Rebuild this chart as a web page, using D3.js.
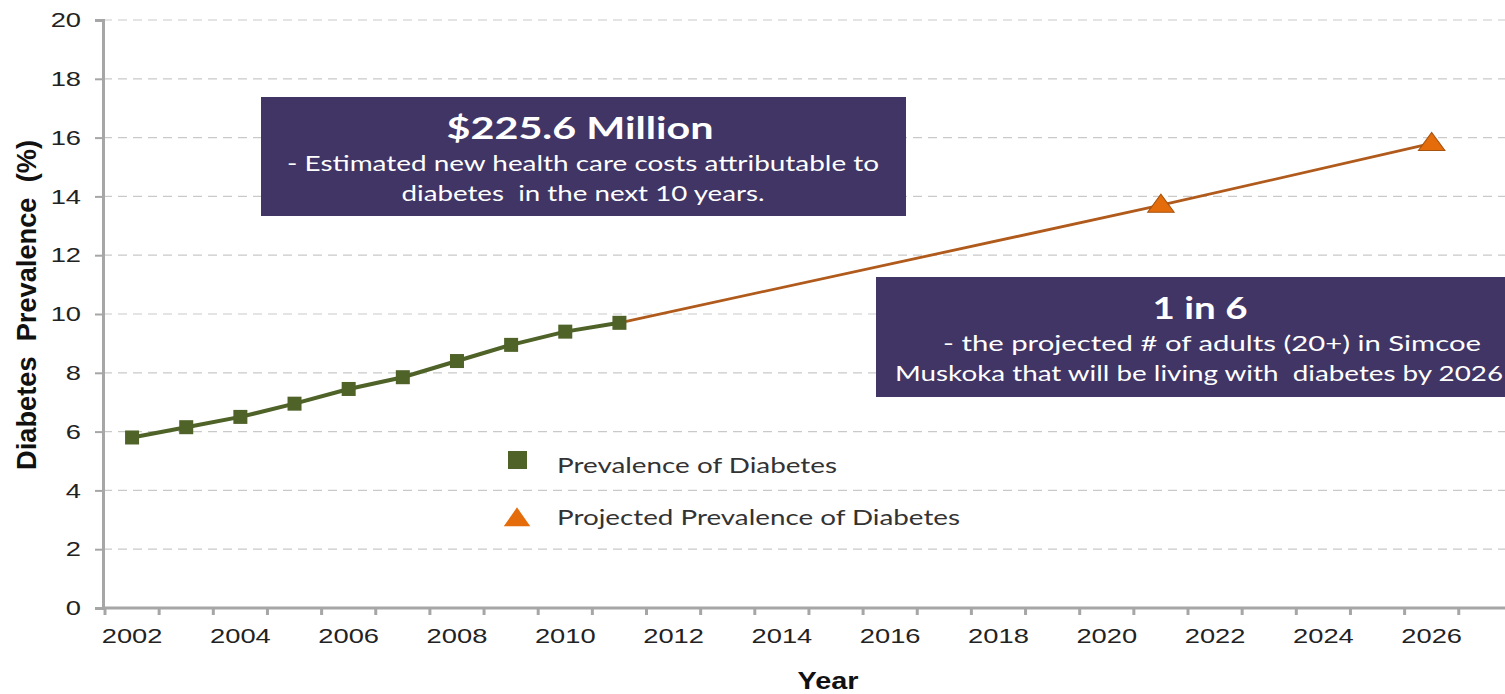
<!DOCTYPE html>
<html>
<head>
<meta charset="utf-8">
<script src="https://cdn.jsdelivr.net/npm/d3@7"></script>
<style>
  html, body { margin: 0; padding: 0; background: #fff; overflow: hidden; }
  svg { display: block; }
</style>
</head>
<body>
<svg id="chart" width="1505" height="694"></svg>
<script>
// Category years on the x axis (Excel-style category axis)
const years = d3.range(2002, 2028);
const labelYears = d3.range(2002, 2027, 2);
const yTicks = d3.range(0, 21, 2);

// Observed prevalence of diabetes (%)
const observedYears = [2002, 2003, 2004, 2005, 2006, 2007, 2008, 2009, 2010, 2011];
const observedValues = [5.8, 6.15, 6.5, 6.95, 7.45, 7.85, 8.4, 8.95, 9.4, 9.7];

// Projected prevalence (%), continuing from the last observed year
const projectedYears = [2011, 2021, 2026];
const projectedValues = [9.7, 13.7, 15.8];
const projectedMarkerYears = [2021, 2026];

const legendItems = ["Prevalence of Diabetes", "Projected Prevalence of Diabetes"];

const GREEN = "#4f6228";
const ORANGE = "#e46c0a";
const ORANGE_LINE = "#b05a1c";
const BOX = "#403565";
const AXIS = "#a6a6a6";

const svg = d3.select("#chart");

const x = d3.scaleBand().domain(years).range([105, 105 + 26 * 54.15]).padding(0);
const cx = yr => x(yr) + x.bandwidth() / 2;
const y = d3.scaleLinear().domain([0, 20]).range([608, 20]);

// stretch a text selection horizontally by factor k
function stretch(sel, k) {
  sel.each(function () {
    const w = this.getComputedTextLength();
    d3.select(this).attr("textLength", w * k).attr("lengthAdjust", "spacingAndGlyphs");
  });
}

// gridlines
svg.append("g")
  .selectAll("line")
  .data(yTicks.filter(d => d > 0))
  .join("line")
  .attr("x1", 103).attr("x2", 1505)
  .attr("y1", d => y(d)).attr("y2", d => y(d))
  .attr("stroke", "#c9c9c9").attr("stroke-width", 1.2)
  .attr("stroke-dasharray", "9,6");

// y axis
const yAxis = svg.append("g")
  .attr("transform", "translate(103,0)")
  .call(d3.axisLeft(y).tickValues(yTicks).tickSize(8).tickPadding(14));
yAxis.select(".domain").attr("stroke", AXIS).attr("stroke-width", 3);
yAxis.selectAll(".tick line").attr("stroke", AXIS).attr("stroke-width", 2);
yAxis.selectAll("text")
  .attr("font-family", "Liberation Sans, Arial, sans-serif")
  .attr("font-size", 21).attr("fill", "#222");
stretch(yAxis.selectAll("text"), 1.3);

// x axis labels
const xAxis = svg.append("g")
  .attr("transform", "translate(0,608)")
  .call(d3.axisBottom(x).tickValues(labelYears).tickSize(0).tickPadding(20));
xAxis.select(".domain").remove();
xAxis.selectAll("text")
  .attr("font-family", "Liberation Sans, Arial, sans-serif")
  .attr("font-size", 21).attr("fill", "#222");
stretch(xAxis.selectAll("text"), 1.3);

// x axis line and category boundary ticks
svg.append("line")
  .attr("x1", 103).attr("x2", 1505).attr("y1", 608).attr("y2", 608)
  .attr("stroke", AXIS).attr("stroke-width", 3);
svg.append("g")
  .selectAll("line")
  .data(years)
  .join("line")
  .attr("x1", d => x(d)).attr("x2", d => x(d))
  .attr("y1", 608).attr("y2", 615)
  .attr("stroke", AXIS).attr("stroke-width", 3);

// axis titles
const yTitle = svg.append("text")
  .attr("transform", "translate(36,305) rotate(-90)")
  .attr("text-anchor", "middle")
  .attr("font-family", "Liberation Sans, Arial, sans-serif")
  .attr("font-weight", "bold").attr("font-size", 27).attr("fill", "#111")
  .attr("xml:space", "preserve")
  .attr("textLength", 330).attr("lengthAdjust", "spacingAndGlyphs")
  .text("Diabetes  Prevalence  (%)");

const xTitle = svg.append("text")
  .attr("x", 828).attr("y", 689)
  .attr("text-anchor", "middle")
  .attr("font-family", "Liberation Sans, Arial, sans-serif")
  .attr("font-weight", "bold").attr("font-size", 24).attr("fill", "#111")
  .text("Year");
stretch(xTitle, 1.2);

// projected line
const line = d3.line().x(d => cx(d[0])).y(d => y(d[1]));
svg.append("path")
  .datum(d3.zip(projectedYears, projectedValues))
  .attr("d", line)
  .attr("fill", "none").attr("stroke", ORANGE_LINE).attr("stroke-width", 2.8);

// observed line
svg.append("path")
  .datum(d3.zip(observedYears, observedValues))
  .attr("d", line)
  .attr("fill", "none").attr("stroke", GREEN).attr("stroke-width", 4);

// observed markers
svg.append("g")
  .selectAll("rect")
  .data(d3.zip(observedYears, observedValues))
  .join("rect")
  .attr("x", d => cx(d[0]) - 7).attr("y", d => y(d[1]) - 7)
  .attr("width", 14).attr("height", 14)
  .attr("fill", GREEN);

// projected markers
const tri = d3.symbol().type(d3.symbolTriangle).size(230);
const projMarkers = d3.zip(projectedYears, projectedValues).filter(d => projectedMarkerYears.includes(d[0]));
svg.append("g")
  .selectAll("path")
  .data(projMarkers)
  .join("path")
  .attr("d", tri)
  .attr("transform", d => `translate(${cx(d[0])},${y(d[1]) + 1}) scale(1.15,0.9)`)
  .attr("fill", ORANGE).attr("stroke", "#a65410").attr("stroke-width", 1);

// legend
const legend = svg.append("g");
legend.append("rect")
  .attr("x", 508).attr("y", 451).attr("width", 19).attr("height", 18)
  .attr("fill", GREEN);
legend.append("path")
  .attr("d", d3.symbol().type(d3.symbolTriangle).size(230))
  .attr("transform", "translate(517,520) scale(1.15,0.95)")
  .attr("fill", ORANGE);
legend.selectAll("text")
  .data(legendItems)
  .join("text")
  .attr("x", 557)
  .attr("y", (d, i) => 473 + i * 52)
  .attr("font-family", "Lato, 'Open Sans', sans-serif")
  .attr("font-size", 22).attr("fill", "#333")
  .attr("textLength", (d, i) => [280, 403][i])
  .attr("lengthAdjust", "spacingAndGlyphs")
  .text(d => d);

// callout boxes
function callout(bx, by, bw, bh, lines) {
  const g = svg.append("g");
  g.append("rect").attr("x", bx).attr("y", by).attr("width", bw).attr("height", bh)
    .attr("fill", BOX);
  lines.forEach(l => {
    g.append("text")
      .attr("x", l.x).attr("y", l.y)
      .attr("text-anchor", "middle")
      .attr("font-family", "Lato, 'Open Sans', sans-serif")
      .attr("font-weight", l.bold ? "bold" : "normal")
      .attr("font-size", l.size).attr("fill", "#fff")
      .attr("xml:space", "preserve")
      .attr("textLength", l.w).attr("lengthAdjust", "spacingAndGlyphs")
      .text(l.text);
  });
}

callout(261, 97, 645, 119, [
  { text: "$225.6 Million", x: 580, y: 139, size: 31, bold: true, w: 267 },
  { text: "- Estimated new health care costs attributable to", x: 583, y: 171, size: 21, w: 592 },
  { text: "diabetes  in the next 10 years.", x: 583, y: 201, size: 21, w: 363 }
]);

callout(876, 277, 640, 120, [
  { text: "1 in 6", x: 1200, y: 319, size: 31, bold: true, w: 95 },
  { text: "- the projected # of adults (20+) in Simcoe", x: 1212, y: 351, size: 21, w: 538 },
  { text: "Muskoka that will be living with  diabetes by 2026", x: 1199, y: 381, size: 21, w: 608 }
]);
</script>
</body>
</html>
